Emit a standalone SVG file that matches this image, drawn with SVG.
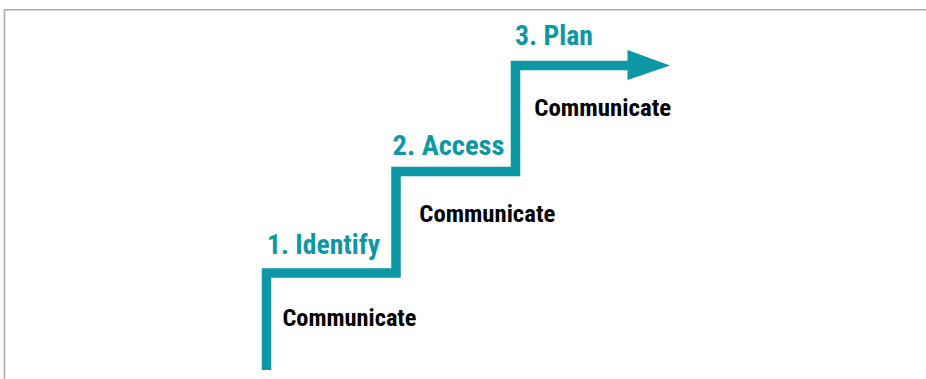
<svg xmlns="http://www.w3.org/2000/svg" width="926" height="379" viewBox="0 0 926 379">
<style>
.frame{stroke:#a9a9a9;stroke-width:1.6;fill:none}
.stair{stroke:#0c97a5;stroke-width:9.5;fill:none;stroke-linejoin:miter}
.title{font-family:"Liberation Sans Narrow","Roboto Condensed","Liberation Sans",sans-serif;font-weight:bold;font-size:27px;fill:#0c97a5}
.comm{font-family:"Liberation Sans Narrow","Roboto Condensed","Liberation Sans",sans-serif;font-weight:bold;font-size:23px;fill:#000}
</style>
<rect width="926" height="379" fill="#fff"/>
<path class="frame" d="M4.5 379 V9.8 H926"/>
<g id="connectors">
<path class="stair" d="M266.5 370 V273 H396 V171.5 H515.5 V65.5 H630"/>
<polygon points="627.5,50 670,65.5 627.5,80" fill="#0c97a5"/>
</g>
<g id="step1">
<text class="title" x="267" y="253.5" textLength="113" lengthAdjust="spacingAndGlyphs">1. Identify</text>
<text class="comm" x="282.5" y="326" textLength="134" lengthAdjust="spacingAndGlyphs">Communicate</text>
</g>
<g id="step2">
<text class="title" x="392.5" y="155" textLength="112" lengthAdjust="spacingAndGlyphs">2. Access</text>
<text class="comm" x="419.3" y="221.7" textLength="136" lengthAdjust="spacingAndGlyphs">Communicate</text>
</g>
<g id="step3">
<text class="title" x="515" y="45" textLength="78" lengthAdjust="spacingAndGlyphs">3. Plan</text>
<text class="comm" x="534.3" y="116" textLength="137" lengthAdjust="spacingAndGlyphs">Communicate</text>
</g>
</svg>
